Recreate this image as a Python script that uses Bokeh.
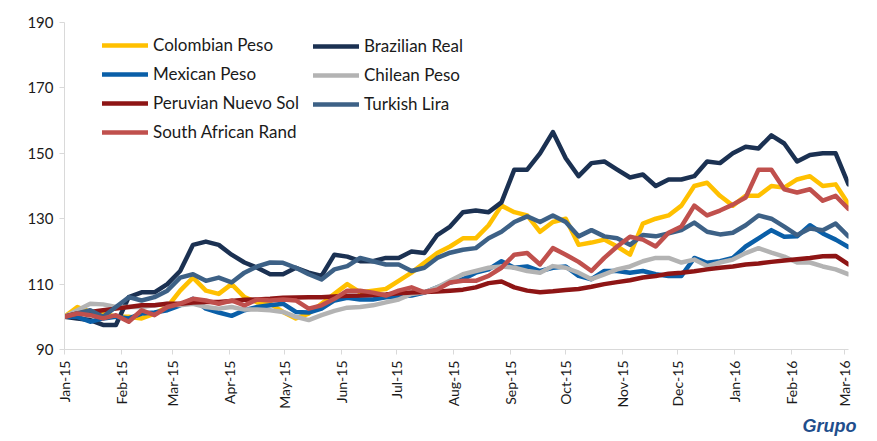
import pandas as pd
from math import pi
from bokeh.plotting import figure
from bokeh.models import Legend, LegendItem, Range1d, FixedTicker, DatetimeTickFormatter, Title
from bokeh.embed import file_html
from bokeh.resources import INLINE

# ---- data (weekly index, Jan-2015 = 100) ----
dates = pd.date_range("2015-01-01", periods=62, freq="7D")

colombian = [100, 103, 101.5, 101, 100, 100, 99.5, 101, 103, 108, 112, 108, 107, 110, 106, 104.4,
             104, 101.5, 99.5, 101, 104, 107, 110, 107.5, 108, 108.5, 111, 113.5, 116.5, 119.5, 121.5,
             124, 124, 128, 134, 132, 131, 126, 129, 130, 122, 122.7, 123.6, 121.5, 119, 128.5, 130,
             131, 134, 140, 141, 137, 134, 137, 137, 140, 139.5, 142, 143, 140, 140.5, 134.5]
brazilian = [100, 99.5, 99, 97.5, 97.5, 106, 107.5, 107.5, 110, 114, 122, 123, 122, 119, 116.6, 115,
             113, 113, 115, 113.5, 112.5, 119, 118.4, 117, 117, 118, 118, 120, 119.5, 125, 127.6,
             132, 132.5, 132, 135, 145, 145, 150, 156.5, 148.5, 143, 147, 147.5, 145, 142.6, 143.5, 140,
             142, 142, 143, 147.5, 147, 150, 152, 151.5, 155.5, 153, 147.5, 149.5, 150, 150, 140.5]
mexican = [100, 100, 98.5, 99.5, 100, 99.5, 101, 101.3, 102, 103.5, 105.5, 102.5, 101.3, 100.3, 102, 103,
           103.5, 104, 101.5, 101.3, 102.5, 105, 105.8, 105.3, 105.3, 106, 106.2, 106.5, 107.4, 109,
           110.5, 111.5, 113.5, 114.5, 117, 115, 115.4, 114, 115, 115.4, 112.5, 111.5, 114, 114, 113.5,
           114, 113, 112.5, 112.5, 118, 116.5, 117, 118, 121.5, 124, 126.5, 124.5, 124.6, 128, 125.5,
           123.6, 121.3]
chilean = [100, 102, 104, 103.8, 103, 103, 103, 103.5, 104, 103.5, 104, 103, 102.5, 103, 102.2, 102.2,
           102, 101.5, 100, 99, 100.5, 101.8, 102.8, 103, 103.5, 104.4, 105.3, 107, 107.5, 109, 111,
           113, 114, 115, 115.4, 115, 114, 113.5, 115.5, 115, 113.5, 111.5, 113, 114.5, 115.4, 117,
           118, 118, 116.6, 117.5, 115.5, 116.6, 117.5, 119.5, 121, 119.6, 118.4, 116.6, 116.6, 115.4,
           114.5, 113]
peruvian = [100, 101, 101.5, 102, 102.5, 103, 103.5, 103.5, 104, 104, 104.4, 104.5, 104.5, 104.8, 105.2,
            105.3, 105.5, 105.8, 105.9, 106, 106, 106.2, 106.4, 106.5, 106.7, 106.8, 107.2, 107.4, 107.6,
            107.7, 108, 108.3, 109, 110.3, 110.8, 109, 108, 107.5, 107.8, 108.2, 108.5, 109.2, 110,
            110.6, 111.2, 112, 112.5, 113.2, 113.5, 113.9, 114.5, 115, 115.4, 116, 116.3, 116.8, 117.2,
            117.6, 118, 118.5, 118.6, 116]
turkish = [100, 101, 102, 100, 103, 106, 105, 106, 108, 112, 113, 111, 112, 110.5, 113.5, 115.4, 116.6,
           116.5, 115, 113, 111.4, 114.5, 115.5, 118, 117, 116, 116, 114, 115, 118, 119.6, 120.5, 121,
           124, 126, 129, 130.7, 129, 131, 129, 124.6, 126.5, 124.6, 124, 122, 125, 124.6, 125.5, 126.5,
           128.8, 126, 125.2, 125.7, 128, 131, 130, 127.6, 125, 127, 126.5, 128.5, 124.6]
south_african = [100, 101, 100.5, 99.5, 100.5, 98.5, 102, 100.5, 103, 104, 105.5, 105, 104, 105, 103.5,
                 105.3, 105, 105.3, 105, 102.5, 103.5, 105.5, 108, 108, 107.4, 106.5, 108, 109, 107.5,
                 108.3, 110.5, 111, 111, 112.5, 115, 119, 119.5, 116, 121, 119, 116.8, 114, 118, 121.5,
                 124.5, 123.6, 121.5, 125.7, 127.6, 134, 131, 132.5, 134.3, 136.5, 145, 145, 139, 138,
                 139, 135.5, 137, 133]

series_names = ["Colombian Peso", "Brazilian Real", "Mexican Peso", "Chilean Peso",
                "Peruvian Nuevo Sol", "Turkish Lira", "South African Rand"]
series_values = [colombian, brazilian, mexican, chilean, peruvian, turkish, south_african]
series_colors = ["#FFC000", "#1B3152", "#0A5FA8", "#B3B3B3", "#8E1515", "#3D6186", "#C0504D"]

month_starts = pd.date_range("2015-01-01", "2016-03-01", freq="MS")
month_labels = ["Jan-15", "Feb-15", "Mar-15", "Apr-15", "May-15", "Jun-15", "Jul-15", "Aug-15",
                "Sep-15", "Oct-15", "Nov-15", "Dec-15", "Jan-16", "Feb-16", "Mar-16"]
y_ticks = [90, 110, 130, 150, 170, 190]

FONT = "Lato"
TXT = "#1a1a1a"
AX = "#d9d9d9"

p = figure(width=869, height=440, x_axis_type="datetime", output_backend="svg",
           toolbar_location=None, min_border_left=64, min_border_right=21,
           min_border_top=22, min_border_bottom=91)
p.x_range = Range1d(start=pd.Timestamp("2015-01-01"), end=pd.Timestamp("2016-03-03"))
p.y_range = Range1d(start=90, end=190)
p.outline_line_color = None
p.xgrid.visible = False
p.ygrid.visible = False

renderers = []
for name, vals, col in zip(series_names, series_values, series_colors):
    r = p.line(x=list(dates), y=vals, line_color=col, line_width=4.5, line_cap="round",
               line_join="round")
    renderers.append(r)

# axes
xa = p.xaxis[0]
xa.ticker = FixedTicker(ticks=[int(d.value // 10**6) for d in month_starts])
xa.major_label_overrides = {int(d.value // 10**6): lab for d, lab in zip(month_starts, month_labels)}
xa.formatter = DatetimeTickFormatter(days="%b-%y", months="%b-%y", years="%b-%y")
xa.major_label_orientation = pi / 2
xa.major_label_text_font = FONT
xa.major_label_text_font_size = "14px"
xa.major_label_text_color = TXT
xa.major_label_standoff = 6
xa.axis_line_color = AX
xa.major_tick_line_color = AX
xa.major_tick_out = 5
xa.major_tick_in = 0
xa.minor_tick_line_color = None

ya = p.yaxis[0]
ya.ticker = FixedTicker(ticks=y_ticks)
ya.major_label_text_font = FONT
ya.major_label_text_font_size = "15px"
ya.major_label_text_color = TXT
ya.major_label_standoff = 6
ya.axis_line_color = AX
ya.major_tick_line_color = AX
ya.major_tick_out = 5
ya.major_tick_in = 0
ya.minor_tick_line_color = None

# legends (two columns)
def make_legend(idx, loc):
    lg = Legend(items=[LegendItem(label=series_names[i], renderers=[renderers[i]]) for i in idx],
                location=loc, orientation="vertical", padding=0, margin=0, spacing=8,
                glyph_width=46, glyph_height=20, label_height=20, label_standoff=5,
                label_text_font=FONT, label_text_font_size="17px", label_text_color=TXT,
                border_line_color=None, background_fill_alpha=0)
    return lg

p.add_layout(make_legend([0, 2, 4, 6], (38, 207)), "center")
p.add_layout(make_legend([1, 3, 5], (249, 235)), "center")

# logo text (bottom right, below the axis)
logo = Title(text="Grupo", align="right", offset=-8, standoff=4,
             text_font="Liberation Sans", text_font_style="bold italic", text_font_size="18px",
             text_color="#1F4E8C")
p.add_layout(logo, "below")

open("out.html", "w").write(file_html(p, INLINE))
